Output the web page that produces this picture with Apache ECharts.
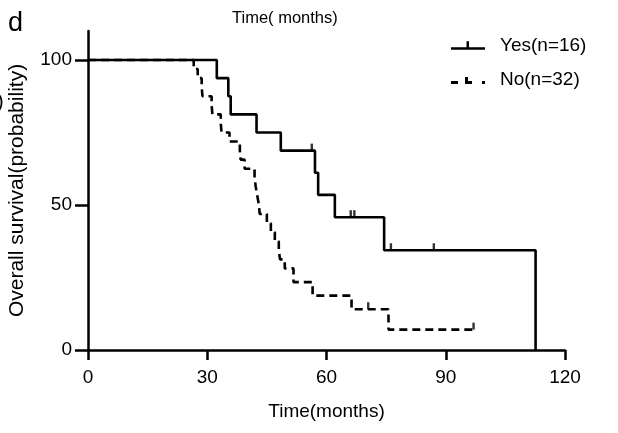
<!DOCTYPE html>
<html>
<head>
<meta charset="utf-8">
<script src="https://cdn.jsdelivr.net/npm/echarts@6/dist/echarts.min.js"></script>
<style>
  html, body { margin: 0; padding: 0; background: #fff; }
  #chart { width: 618px; height: 433px; }
</style>
</head>
<body>
<div id="chart"></div>
<script>
// ---- data ----
var seriesNames = ['Yes(n=16)', 'No(n=32)'];
var xTicks = [0, 30, 60, 90, 120];
var yTicks = [0, 50, 100];

// Kaplan-Meier steps [time (months), survival (%)]
var yesSteps = [[0, 100], [32.4, 93.75], [35.3, 87.5], [35.9, 81.25], [42.4, 75], [48.5, 68.75],
  [57.1, 61.1], [57.9, 53.5], [62.1, 45.8], [74.5, 34.4], [112.6, 0]];
var yesCensored = [[56.3, 68.75], [66.1, 45.8], [67.0, 45.8], [76.2, 34.4], [87.0, 34.4]];

var noSteps = [[0, 100], [26.6, 96.88], [27.6, 93.75], [28.6, 90.63], [28.8, 87.5], [31.1, 84.38],
  [31.3, 81.25], [33.4, 78.13], [33.6, 75], [35.6, 71.88], [38.2, 68.75], [38.4, 65.63],
  [39.4, 62.5], [41.9, 59.38], [42.2, 56.25], [42.6, 53.13], [43.0, 50], [43.2, 46.88],
  [45.0, 43.75], [46.0, 40.63], [47.0, 37.5], [48.0, 34.38], [48.3, 31.25], [49.5, 28.13],
  [51.7, 23.4], [56.5, 18.75], [66.3, 14.06], [75.6, 7.03], [97.0, 7.03]];
var noCensored = [[70.5, 14.06], [97.0, 7.03]];

var FONT = '"Liberation Sans", Arial, sans-serif';
var chart = echarts.init(document.getElementById('chart'), null, { renderer: 'canvas' });

var option = {
  backgroundColor: '#fff',
  animation: false,
  textStyle: { fontFamily: FONT, color: '#000' },
  grid: { left: 88, right: 53, top: 31, bottom: 83, containLabel: false, outerBoundsMode: 'none' },
  legend: {
    orient: 'vertical',
    left: 446,
    top: 31,
    itemWidth: 34,
    itemHeight: 9,
    itemGap: 15,
    textStyle: { fontFamily: FONT, fontSize: 19, color: '#000', padding: [0, 0, 0, 10] },
    data: [
      { name: seriesNames[0], icon: 'path://M0,6 L34,6 L34,8.6 L0,8.6 Z M15.5,0 L18,0 L18,6 L15.5,6 Z' },
      { name: seriesNames[1], icon: 'path://M0,6 h7 v3 h-7 Z M14,6 h7 v3 h-7 Z M14,2 h3 v4 h-3 Z M0,0 h0.01 v0.01 h-0.01 Z M31,6 h3 v3 h-3 Z' }
    ]
  },
  xAxis: {
    type: 'value',
    min: 0, max: 120, interval: 30,
    name: 'Time(months)',
    nameLocation: 'middle',
    nameGap: 52,
    nameTextStyle: { fontFamily: FONT, fontSize: 19, color: '#000' },
    axisLine: { show: true, onZero: false, lineStyle: { color: '#000', width: 2.5 } },
    axisTick: { show: true, inside: false, length: 10, customValues: xTicks, lineStyle: { color: '#000', width: 2.5 } },
    axisLabel: { show: true, fontFamily: FONT, fontSize: 19, color: '#000', margin: 18, customValues: xTicks },
    splitLine: { show: false }
  },
  yAxis: {
    type: 'value',
    min: 0, max: 110,
    name: 'Overall survival(probability)',
    nameLocation: 'middle',
    nameGap: 60,
    nameRotate: 90,
    nameTextStyle: { fontFamily: FONT, fontSize: 21, color: '#000' },
    axisLine: { show: true, onZero: false, lineStyle: { color: '#000', width: 2.5 } },
    axisTick: { show: true, inside: false, length: 13, customValues: yTicks, lineStyle: { color: '#000', width: 2.5 } },
    axisLabel: { fontFamily: FONT, fontSize: 19, color: '#000', margin: 16, customValues: yTicks },
    splitLine: { show: false }
  },
  graphic: [
    { type: 'text', left: 8, top: 10, style: { text: 'd', fontSize: 27, fontFamily: FONT, fill: '#000' } },
    { type: 'text', left: 232, top: 10, style: { text: 'Time( months)', fontSize: 16.5, fontFamily: FONT, fill: '#000' } },
    { type: 'text', left: -3, top: 92, style: { text: ')', fontSize: 20, fontFamily: FONT, fill: '#000' } }
  ],
  series: [
    {
      name: seriesNames[0], type: 'line', step: 'end', data: yesSteps,
      symbol: 'none', lineStyle: { color: '#000', width: 2.6 }, itemStyle: { color: '#000' }, z: 3
    },
    {
      name: seriesNames[1], type: 'line', step: 'end', data: noSteps,
      symbol: 'none', lineStyle: { color: '#000', width: 2.6, type: [8, 5] }, itemStyle: { color: '#000' }, z: 2
    },
    {
      name: 'yesCensor', type: 'scatter', data: yesCensored, symbol: 'rect',
      symbolSize: [2.4, 7], symbolOffset: [0, -3.5], itemStyle: { color: '#000' }, z: 4
    },
    {
      name: 'noCensor', type: 'scatter', data: noCensored, symbol: 'rect',
      symbolSize: [2.4, 7], symbolOffset: [0, -3.5], itemStyle: { color: '#000' }, z: 4
    }
  ]
};
chart.setOption(option);
</script>
</body>
</html>
